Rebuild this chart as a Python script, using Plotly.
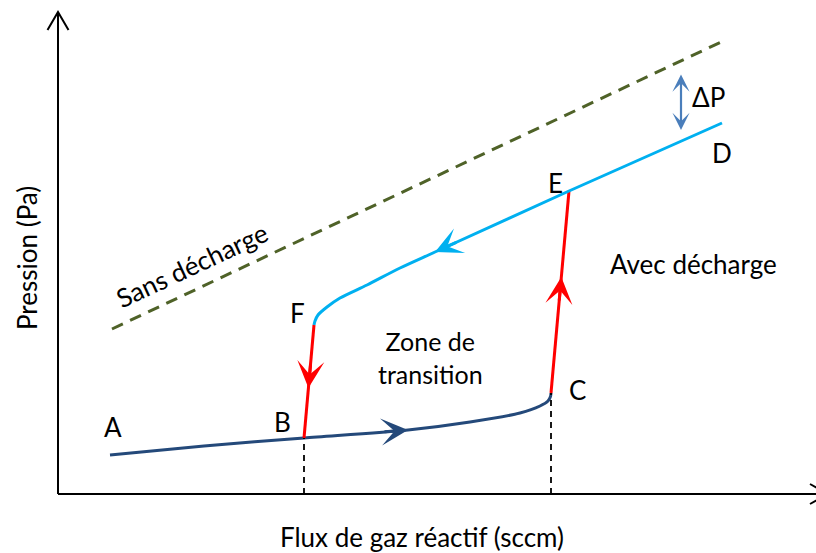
import numpy as np
import plotly.graph_objects as go

# Hysteresis of reactive sputtering: pressure vs reactive gas flow (arbitrary units)
flux_AC = [52, 146, 246, 350, 412, 462, 482, 490, 492.5, 493]
pres_AC = [39, 48, 56, 64, 72, 81, 88, 93, 97.5, 101]

flux_CE = [493, 511]
pres_CE = [101, 303]

flux_DF = [664, 511, 377, 342, 309, 282, 269, 260, 257, 256]
pres_DF = [371, 303, 242, 226, 209, 196, 187, 179, 173, 169]

flux_FB = [256, 246]
pres_FB = [169, 56]

flux_no_discharge = [54, 663]
pres_no_discharge = [165, 452]

# Axis extents
x_min, x_max = -58, 758
y_min, y_max = -59, 494
x_axis_end = 770
y_axis_end = 482

DARK_BLUE = "#24497A"
RED = "#FF0000"
CYAN = "#00B0F0"
OLIVE = "#4F6228"
STEEL = "#4A7EBB"
FONT = "Lato"
FS = 26

fig = go.Figure()


def branch(xs, ys, color, dash="solid", width=3):
    fig.add_trace(go.Scatter(x=xs, y=ys, mode="lines",
                             line=dict(color=color, width=width, dash=dash, shape="spline", smoothing=0.8),
                             hoverinfo="skip", showlegend=False))


branch(flux_no_discharge, pres_no_discharge, OLIVE, dash="12px,8px")
branch(flux_AC, pres_AC, DARK_BLUE)
branch(flux_CE, pres_CE, RED)
branch(flux_DF, pres_DF, CYAN)
branch(flux_FB, pres_FB, RED)

# Dashed guides from the jump points B and C down to the flux axis
for fx, py in [(flux_FB[-1], pres_FB[-1]), (flux_CE[0], pres_CE[0])]:
    fig.add_shape(type="line", x0=fx, x1=fx, y0=0, y1=py,
                  line=dict(color="black", width=1.8, dash="6px,5px"))

# Axes with open arrow tips
fig.add_shape(type="line", x0=0, y0=0, x1=0, y1=y_axis_end, line=dict(color="black", width=2))
fig.add_shape(type="line", x0=0, y0=0, x1=x_axis_end, y1=0, line=dict(color="black", width=2))
fig.add_shape(type="path", path=f"M -10.5 {y_axis_end-18} L 0 {y_axis_end} L 10.5 {y_axis_end-18}",
              line=dict(color="black", width=2))
fig.add_shape(type="path", path=f"M {x_axis_end-18} 10 L {x_axis_end} 0 L {x_axis_end-18} -10",
              line=dict(color="black", width=2))


def arrow_on(xs, ys, key, along_x, color, back=25):
    """Arrowhead on a branch, pointing in the branch's direction of travel."""
    xs = np.asarray(xs, float)
    ys = np.asarray(ys, float)
    s = np.concatenate([[0], np.cumsum(np.hypot(np.diff(xs), np.diff(ys)))])
    coord = xs if along_x else ys
    order = np.argsort(coord)
    s_tip = np.interp(key, coord[order], s[order])
    tip_x, tip_y = np.interp(s_tip, s, xs), np.interp(s_tip, s, ys)
    s_tail = max(s_tip - back, 0)
    tail_x, tail_y = np.interp(s_tail, s, xs), np.interp(s_tail, s, ys)
    fig.add_annotation(x=tip_x, y=tip_y, ax=tail_x, ay=tail_y, axref="x", ayref="y",
                       xref="x", yref="y", text="", showarrow=True, arrowhead=3,
                       arrowsize=1.5, arrowwidth=3, arrowcolor=color, standoff=0)


arrow_on(flux_AC, pres_AC, 350, True, DARK_BLUE)
arrow_on(flux_CE, pres_CE, 217, False, RED)
arrow_on(flux_DF, pres_DF, 377, True, CYAN)
arrow_on(flux_FB, pres_FB, 106, False, RED)

# Pressure offset between the two regimes
fig.add_annotation(x=623, y=364, ax=623, ay=421, axref="x", ayref="y", xref="x", yref="y",
                   text="", showarrow=True, arrowhead=3, startarrowhead=3, arrowside="end+start",
                   arrowsize=1.3, startarrowsize=1.3, arrowwidth=2.2, arrowcolor=STEEL,
                   standoff=0, startstandoff=0)

labels = [
    ("A", 55, 67), ("B", 224, 72), ("C", 519, 104), ("D", 664, 341),
    ("E", 497, 311), ("F", 239, 181), ("ΔP", 650, 397),
]
for txt, lx, ly in labels:
    fig.add_annotation(x=lx, y=ly, text=txt, showarrow=False,
                       font=dict(family=FONT, size=FS, color="black"))

fig.add_annotation(x=372, y=137, text="Zone de<br>transition", showarrow=False,
                   font=dict(family=FONT, size=FS - 1, color="black"))
fig.add_annotation(x=635, y=230, text="Avec décharge", showarrow=False,
                   font=dict(family=FONT, size=FS, color="black"))
fig.add_annotation(x=134, y=229, text="Sans décharge", showarrow=False, textangle=-25,
                   font=dict(family=FONT, size=FS, color="black"))
fig.add_annotation(x=-31, y=236, text="Pression (Pa)", showarrow=False, textangle=-90,
                   font=dict(family=FONT, size=FS, color="black"))
fig.add_annotation(x=364, y=-43, text="Flux de gaz réactif (sccm)", showarrow=False,
                   font=dict(family=FONT, size=FS, color="black"))

fig.update_layout(
    width=816, height=553, margin=dict(l=0, r=0, t=0, b=0),
    paper_bgcolor="white", plot_bgcolor="white",
    xaxis=dict(range=[x_min, x_max], visible=False, fixedrange=True),
    yaxis=dict(range=[y_min, y_max], visible=False, fixedrange=True),
)

fig.write_html("out.html")
